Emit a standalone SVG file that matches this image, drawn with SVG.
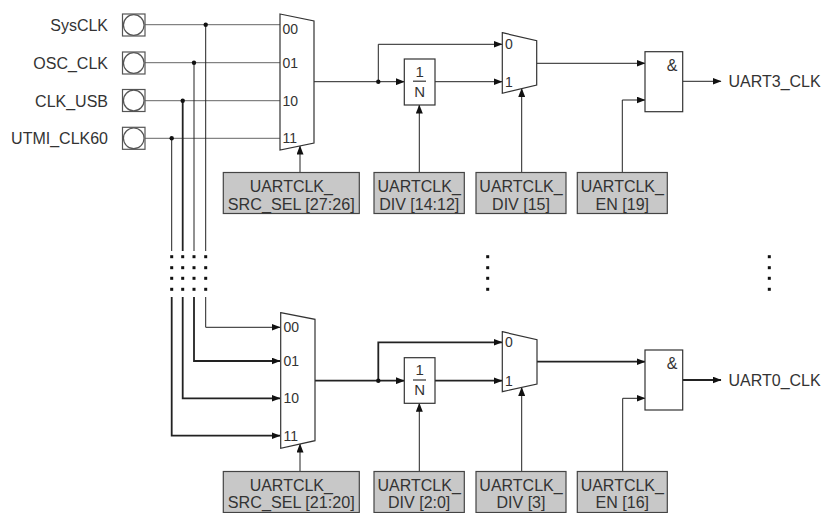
<svg xmlns="http://www.w3.org/2000/svg" width="823" height="513" viewBox="0 0 823 513">
<defs>
<marker id="ah" markerWidth="9" markerHeight="7" refX="8.5" refY="3.5" orient="auto" markerUnits="userSpaceOnUse"><path d="M0,0 L9,3.5 L0,7 z" fill="#111"/></marker>
<style>
text{font-family:"Liberation Sans",Arial,sans-serif;fill:#333}
.lbl{font-size:16px}
.sm{font-size:14px}
.box{fill:#c8c8c8;stroke:#444;stroke-width:1.2}
.blk{fill:#fff;stroke:#333;stroke-width:1.2}
.w{fill:none;stroke:#222;stroke-width:1}
.wt{fill:none;stroke:#222;stroke-width:1.8}
.wg{fill:none;stroke:#666;stroke-width:1}
.arr{marker-end:url(#ah)}
.dot{fill:#111}
.pad{fill:#fff;stroke:#555;stroke-width:1.2}
</style>
</defs>
<rect width="823" height="513" fill="#fff"/>

<g id="connectors">
<path class="wg" d="M145,24.7 H280"/>
<path class="wg" d="M145,62.7 H280"/>
<path class="wg" d="M145,100.7 H280"/>
<path class="wg" d="M145,138.3 H280"/>
<path class="w" d="M205.7,24.7 V251"/>
<path class="w" d="M194,62.7 V251"/>
<path class="wt" d="M182.7,100.7 V251"/>
<path class="w" d="M171.7,138.3 V251"/>
<path class="w arr" d="M205.7,297 V327.3 H280"/>
<path class="wt arr" d="M194,297 V361 H280"/>
<path class="wt arr" d="M182.7,297 V398.3 H280"/>
<path class="wt arr" d="M171.7,297 V435.7 H280"/>
<path class="w arr" d="M314,81.7 H404.3"/>
<path class="w arr" d="M378.3,81.7 V44.3 H502"/>
<path class="w arr" d="M435,81.7 H502"/>
<path class="w arr" d="M536.7,63.3 H645"/>
<path class="w arr" d="M622.3,172.5 V100 H645"/>
<path class="w arr" d="M682.7,81.3 H721"/>
<path class="w arr" d="M300,172.5 V146"/>
<path class="w arr" d="M419.3,172.5 V105"/>
<path class="w arr" d="M521.7,172.5 V88.6"/>
<path class="wt arr" d="M315,380.7 H404.3"/>
<path class="wt arr" d="M378.3,380.7 V342.3 H502"/>
<path class="wt arr" d="M435,380.7 H502"/>
<path class="wt arr" d="M537,361.7 H645"/>
<path class="w arr" d="M622.7,471.5 V398.3 H645"/>
<path class="wt arr" d="M682.7,380 H721"/>
<path class="w arr" d="M300,471.5 V444"/>
<path class="w arr" d="M419.3,471.5 V403.3"/>
<path class="w arr" d="M521.7,471.5 V387.4"/>
<circle class="dot" cx="205.7" cy="24.7" r="2.2"/>
<circle class="dot" cx="194" cy="62.7" r="2.2"/>
<circle class="dot" cx="182.7" cy="100.7" r="2.2"/>
<circle class="dot" cx="171.7" cy="138.3" r="2.2"/>
<circle class="dot" cx="378.3" cy="81.7" r="2.2"/>
<circle class="dot" cx="378.3" cy="380.7" r="2.2"/>
</g>

<g id="ellipsis">
<g class="dot">
<rect x="170.2" y="255.2" width="3" height="3"/><rect x="170.2" y="266.2" width="3" height="3"/><rect x="170.2" y="276.8" width="3" height="3"/><rect x="170.2" y="287.8" width="3" height="3"/>
<rect x="181.2" y="255.2" width="3" height="3"/><rect x="181.2" y="266.2" width="3" height="3"/><rect x="181.2" y="276.8" width="3" height="3"/><rect x="181.2" y="287.8" width="3" height="3"/>
<rect x="192.5" y="255.2" width="3" height="3"/><rect x="192.5" y="266.2" width="3" height="3"/><rect x="192.5" y="276.8" width="3" height="3"/><rect x="192.5" y="287.8" width="3" height="3"/>
<rect x="204.2" y="255.2" width="3" height="3"/><rect x="204.2" y="266.2" width="3" height="3"/><rect x="204.2" y="276.8" width="3" height="3"/><rect x="204.2" y="287.8" width="3" height="3"/>
<rect x="486.2" y="255.2" width="3" height="3"/><rect x="486.2" y="266.2" width="3" height="3"/><rect x="486.2" y="276.8" width="3" height="3"/><rect x="486.2" y="287.8" width="3" height="3"/>
<rect x="767.8" y="255.2" width="3" height="3"/><rect x="767.8" y="266.2" width="3" height="3"/><rect x="767.8" y="276.8" width="3" height="3"/><rect x="767.8" y="287.8" width="3" height="3"/>
</g>
</g>

<g id="pad-sysclk"><text class="lbl" x="108" y="30.5" text-anchor="end">SysCLK</text><rect class="pad" x="122.5" y="14" width="22.5" height="22"/><circle class="pad" cx="133.75" cy="25" r="10.3"/></g>
<g id="pad-oscclk"><text class="lbl" x="108" y="68.5" text-anchor="end">OSC_CLK</text><rect class="pad" x="122.5" y="52" width="22.5" height="22"/><circle class="pad" cx="133.75" cy="63" r="10.3"/></g>
<g id="pad-clkusb"><text class="lbl" x="108" y="106.5" text-anchor="end">CLK_USB</text><rect class="pad" x="122.5" y="89.5" width="22.5" height="22"/><circle class="pad" cx="133.75" cy="100.5" r="10.3"/></g>
<g id="pad-utmi"><text class="lbl" x="108" y="144" text-anchor="end">UTMI_CLK60</text><rect class="pad" x="122.5" y="127.3" width="22.5" height="22"/><circle class="pad" cx="133.75" cy="138.3" r="10.3"/></g>

<g id="mux-src3"><path class="blk" d="M280,14 L314,21 L314,143 L280,150 Z"/>
<text class="sm" x="282.5" y="33.5">00</text><text class="sm" x="282.5" y="67.5">01</text><text class="sm" x="282.5" y="105.5">10</text><text class="sm" x="282.5" y="143">11</text></g>
<g id="div3"><rect class="blk" x="404.3" y="59" width="30.7" height="46"/><text x="419.6" y="76.5" font-size="15" text-anchor="middle">1</text><path d="M413,81.2 H426" stroke="#333" stroke-width="1.2"/><text x="419.6" y="96.5" font-size="15" text-anchor="middle">N</text></g>
<g id="mux-div3"><path class="blk" d="M502.3,32.7 L536.7,40.7 L536.7,85 L502.3,93.3 Z"/><text class="sm" x="505" y="49.3">0</text><text class="sm" x="505" y="86.5">1</text></g>
<g id="and3"><rect class="blk" x="645" y="51.7" width="37.7" height="60"/><text x="672" y="71" font-size="16" text-anchor="middle">&amp;</text></g>
<g id="out3"><text class="lbl" x="728.5" y="87">UART3_CLK</text></g>
<g id="reg-src3"><rect class="box" x="223.3" y="172.5" width="136" height="41"/><text class="lbl" x="291.3" y="191.5" text-anchor="middle">UARTCLK_</text><text class="lbl" x="291.3" y="209.5" text-anchor="middle" textLength="127" lengthAdjust="spacingAndGlyphs">SRC_SEL [27:26]</text></g>
<g id="reg-div3a"><rect class="box" x="374" y="172.5" width="90.3" height="41"/><text class="lbl" x="419.2" y="191.5" text-anchor="middle">UARTCLK_</text><text class="lbl" x="419.2" y="209.5" text-anchor="middle">DIV [14:12]</text></g>
<g id="reg-div3b"><rect class="box" x="476" y="172.5" width="90" height="41"/><text class="lbl" x="521" y="191.5" text-anchor="middle">UARTCLK_</text><text class="lbl" x="521" y="209.5" text-anchor="middle">DIV [15]</text></g>
<g id="reg-en3"><rect class="box" x="577.3" y="172.5" width="90" height="41"/><text class="lbl" x="622.3" y="191.5" text-anchor="middle">UARTCLK_</text><text class="lbl" x="622.3" y="209.5" text-anchor="middle">EN [19]</text></g>

<g id="mux-src0"><path class="blk" d="M280.7,312.7 L315,319.3 L315,440.7 L280.7,448.3 Z"/>
<text class="sm" x="283.5" y="332.3">00</text><text class="sm" x="283.5" y="366">01</text><text class="sm" x="283.5" y="403.3">10</text><text class="sm" x="283.5" y="440.7">11</text></g>
<g id="div0"><rect class="blk" x="404.3" y="357.7" width="30.7" height="45.6"/><text x="419.6" y="375" font-size="15" text-anchor="middle">1</text><path d="M413,380 H426" stroke="#333" stroke-width="1.2"/><text x="419.6" y="395" font-size="15" text-anchor="middle">N</text></g>
<g id="mux-div0"><path class="blk" d="M502.3,331.7 L537,339.7 L537,384 L502.3,391.7 Z"/><text class="sm" x="505" y="347.3">0</text><text class="sm" x="505" y="386">1</text></g>
<g id="and0"><rect class="blk" x="645" y="350" width="37.7" height="60"/><text x="672" y="369" font-size="16" text-anchor="middle">&amp;</text></g>
<g id="out0"><text class="lbl" x="728.5" y="385.5">UART0_CLK</text></g>
<g id="reg-src0"><rect class="box" x="223.3" y="471.5" width="136" height="41"/><text class="lbl" x="291.3" y="490.5" text-anchor="middle">UARTCLK_</text><text class="lbl" x="291.3" y="508" text-anchor="middle" textLength="127" lengthAdjust="spacingAndGlyphs">SRC_SEL [21:20]</text></g>
<g id="reg-div0a"><rect class="box" x="374" y="471.5" width="90.3" height="41"/><text class="lbl" x="419.2" y="490.5" text-anchor="middle">UARTCLK_</text><text class="lbl" x="419.2" y="508" text-anchor="middle">DIV [2:0]</text></g>
<g id="reg-div0b"><rect class="box" x="476" y="471.5" width="90" height="41"/><text class="lbl" x="521" y="490.5" text-anchor="middle">UARTCLK_</text><text class="lbl" x="521" y="508" text-anchor="middle">DIV [3]</text></g>
<g id="reg-en0"><rect class="box" x="577.3" y="471.5" width="90" height="41"/><text class="lbl" x="622.3" y="490.5" text-anchor="middle">UARTCLK_</text><text class="lbl" x="622.3" y="508" text-anchor="middle">EN [16]</text></g>
</svg>
